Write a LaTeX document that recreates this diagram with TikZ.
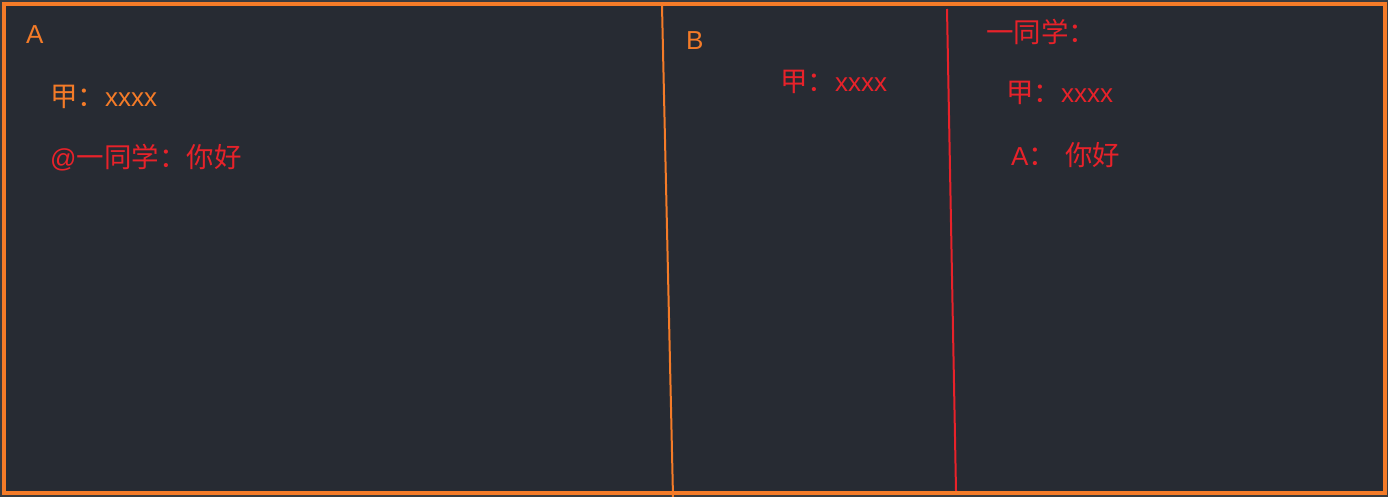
\documentclass[tikz,border=0pt]{standalone}
\usepackage{fontspec}
\setmainfont{Noto Sans CJK SC}
\newfontfamily\latf{Liberation Sans}
\definecolor{bgc}{HTML}{272B33}
\definecolor{outc}{HTML}{3A3B3E}
\definecolor{orc}{HTML}{F47B28}
\definecolor{rdc}{HTML}{E8222A}
\newcommand{\lt}[1]{{\latf\fontsize{26}{30}\selectfont #1}}
\begin{document}
\begin{tikzpicture}[x=1pt,y=-1pt,
  lbl/.style={anchor=west,inner sep=0pt,font=\fontsize{27.5}{32}\selectfont},
  orl/.style={lbl,text=orc},
  rdl/.style={lbl,text=rdc}]
\useasboundingbox (0,0) rectangle (1388,497);
\fill[outc] (0,0) rectangle (1388,497);
\fill[bgc] (4,4) rectangle (1385,493);
% dividers
\coordinate (o1) at (662,6);
\coordinate (o2) at (673,497);
\coordinate (r1) at (947,9);
\coordinate (r2) at (956,491);
\draw[orc,line width=2pt] (o1) -- (o2);
\draw[rdc,line width=2pt] (r1) -- (r2);
\draw[orc,line width=4pt] (4,4) rectangle (1385,493);
% texts
\node[orl] (a) at (26,35) {\lt{A}};
\node[orl] (a1) at (50,97) {甲：\lt{xxxx}};
\node[rdl] (a2) at (50,158) {\lt{@}一同学：你好};
\node[orl] (b) at (686,41) {\lt{B}};
\node[rdl] (b1) at (780,82) {甲：\lt{xxxx}};
\node[rdl] (c) at (986,32) {一同学：};
\node[rdl] (c1) at (1006,93) {甲：\lt{xxxx}};
\node[rdl] (c2) at (1011,155) {\lt{A}：\hspace{9pt}你好};
\end{tikzpicture}
\end{document}
